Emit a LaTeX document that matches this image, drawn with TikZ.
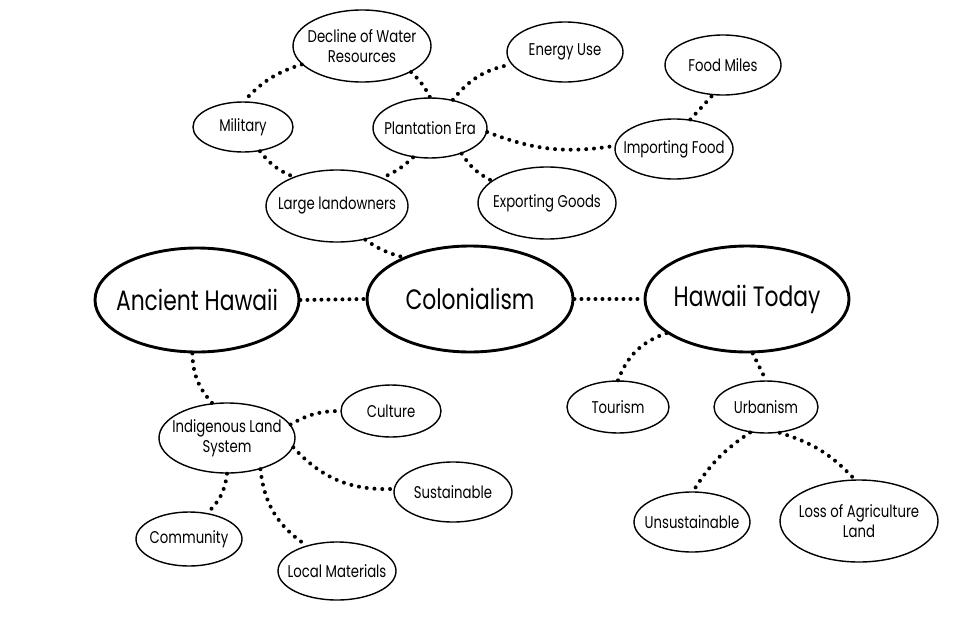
\documentclass[tikz,border=0pt]{standalone}
\usepackage{fontspec}
\setmainfont{Poppins}[FakeStretch=0.78]
\usetikzlibrary{shapes.geometric}
\tikzset{
  bub/.style={ellipse, draw, line width=1.4pt, inner sep=0pt, fill=white},
  big/.style={bub, line width=2.9pt},
  txt/.style={inner sep=0pt, align=center, font=\fontsize{17}{20}\selectfont},
  bigtxt/.style={inner sep=0pt, align=center, font=\fontsize{28}{32}\selectfont},
  dots/.style={line width=4pt, line cap=round, dash pattern=on 0pt off 7.8pt},
  hdots/.style={dots, dash pattern=on 0pt off 7pt}
}
\begin{document}
\begin{tikzpicture}[x=1pt,y=1pt]
\useasboundingbox[fill=white] (0,0) rectangle (960,-621);
% big nodes
\node[big, minimum width=204pt, minimum height=104pt] (ah) at (197,-300) {};
\node[bigtxt] (aht) at (ah) {Ancient Hawaii};
\node[big, minimum width=206pt, minimum height=106pt] (col) at (470,-299) {};
\node[bigtxt] (colt) at (col) {Colonialism};
\node[big, minimum width=204pt, minimum height=106pt] (ht) at (747,-299) {};
\node[bigtxt] (htt) at (ht) {Hawaii Today};
% small nodes
\node[bub, minimum width=138pt, minimum height=72pt] (dec) at (362,-46) {};
\node[txt] (dect) at (dec) {Decline of Water\\Resources};
\node[bub, minimum width=116pt, minimum height=60pt] (en) at (565,-52) {};
\node[txt] (ent) at (en) {Energy Use};
\node[bub, minimum width=116pt, minimum height=60pt] (fm) at (723,-65) {};
\node[txt] (fmt) at (fm) {Food Miles};
\node[bub, minimum width=100pt, minimum height=50pt] (mil) at (243,-127) {};
\node[txt] (milt) at (mil) {Military};
\node[bub, minimum width=114pt, minimum height=60pt] (pe) at (430,-128) {};
\node[txt] (pet) at (pe) {Plantation Era};
\node[bub, minimum width=118pt, minimum height=60pt] (imp) at (674,-149) {};
\node[txt] (impt) at (imp) {Importing Food};
\node[bub, minimum width=142pt, minimum height=72pt] (ll) at (337,-206) {};
\node[txt] (llt) at (ll) {Large landowners};
\node[bub, minimum width=138pt, minimum height=72pt] (exp) at (547,-203) {};
\node[txt] (expt) at (exp) {Exporting Goods};
\node[bub, minimum width=136pt, minimum height=70pt] (il) at (227,-438) {};
\node[txt] (ilt) at (il) {Indigenous Land\\System};
\node[bub, minimum width=100pt, minimum height=52pt] (cul) at (391,-411) {};
\node[txt] (cult) at (cul) {Culture};
\node[bub, minimum width=118pt, minimum height=60pt] (sus) at (453,-492) {};
\node[txt] (sust) at (sus) {Sustainable};
\node[bub, minimum width=106pt, minimum height=54pt] (com) at (189,-539) {};
\node[txt] (comt) at (com) {Community};
\node[bub, minimum width=118pt, minimum height=58pt] (lm) at (337,-571) {};
\node[txt] (lmt) at (lm) {Local Materials};
\node[bub, minimum width=102pt, minimum height=52pt] (tou) at (618,-407) {};
\node[txt] (tout) at (tou) {Tourism};
\node[bub, minimum width=104pt, minimum height=52pt] (urb) at (766,-407) {};
\node[txt] (urbt) at (urb) {Urbanism};
\node[bub, minimum width=116pt, minimum height=60pt] (uns) at (692,-522) {};
\node[txt] (unst) at (uns) {Unsustainable};
\node[bub, minimum width=158pt, minimum height=82pt] (loss) at (859,-521) {};
\node[txt] (losst) at (loss) {Loss of Agriculture\\Land};
% connectors
\draw[dots] (dec.197) to[bend right=15] (mil.88);
\draw[dots] (dec.332) to[bend left=10] (pe.90);
\draw[dots] (mil.305) to[bend right=15] (ll.146);
\draw[dots] (pe.240) to[bend left=10] (ll.32);
\draw[dots] (ll.310) to[bend right=10] (col.148);
\draw[dots] (pe.51) to[bend left=20] (en.193);
\draw[dots] (pe.356) to[bend right=15] (imp.177);
\draw[dots] (imp.61) -- (fm.251);
\draw[dots] (pe.321) to[bend right=15] (exp.158);
\draw[hdots] (ah.east) -- (col.west);
\draw[hdots] (col.east) -- (ht.west);
\draw[dots] (ah.265) to[bend right=20] (il.113);
\draw[dots] (il.12) to[bend left=15] (cul.180);
\draw[dots] (il.352) to[bend right=25] (sus.177);
\draw[dots] (il.270) to[bend left=20] (com.55);
\draw[dots] (il.317) to[bend right=25] (lm.140);
\draw[dots] (ht.203) to[bend right=25] (tou.90);
\draw[dots] (ht.276) -- (urb.90);
\draw[dots] (urb.238) to[bend right=12] (uns.88);
\draw[dots] (urb.298) to[bend left=15] (loss.96);
\end{tikzpicture}
\end{document}
